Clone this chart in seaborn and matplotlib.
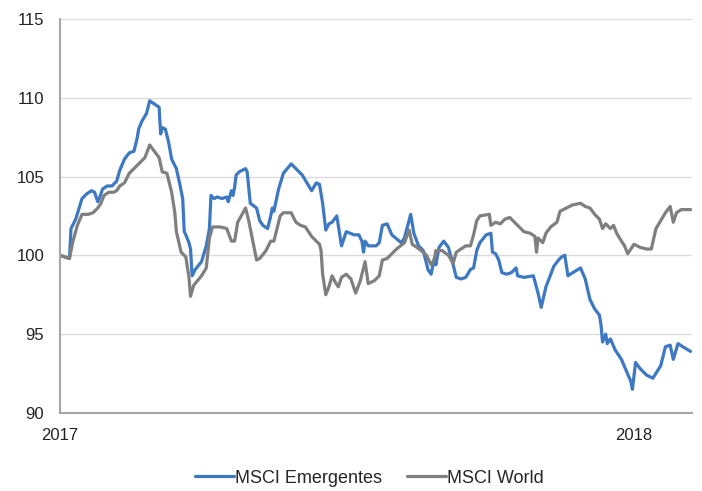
import pandas as pd
import matplotlib
matplotlib.use("Agg")
import matplotlib.pyplot as plt
import matplotlib.dates as mdates
import seaborn as sns

# MSCI Emerging Markets index, rebased to 100 at the start of 2017
em_dates = [
    "2017-01-01", "2017-01-07", "2017-01-08", "2017-01-11", "2017-01-15", "2017-01-18",
    "2017-01-21", "2017-01-23", "2017-01-25", "2017-01-26", "2017-01-28", "2017-01-31",
    "2017-02-03", "2017-02-06", "2017-02-08", "2017-02-11", "2017-02-14", "2017-02-17",
    "2017-02-19", "2017-02-20", "2017-02-22", "2017-02-25", "2017-02-27", "2017-03-02",
    "2017-03-05", "2017-03-06", "2017-03-07", "2017-03-09", "2017-03-11", "2017-03-13",
    "2017-03-16", "2017-03-18", "2017-03-20", "2017-03-21", "2017-03-22", "2017-03-24",
    "2017-03-25", "2017-03-26", "2017-03-28", "2017-04-01", "2017-04-04", "2017-04-06",
    "2017-04-07", "2017-04-09", "2017-04-11", "2017-04-14", "2017-04-17", "2017-04-18",
    "2017-04-20", "2017-04-21", "2017-04-22", "2017-04-23", "2017-04-25", "2017-04-29",
    "2017-04-30", "2017-05-02", "2017-05-06", "2017-05-08", "2017-05-10", "2017-05-13",
    "2017-05-15", "2017-05-16", "2017-05-17", "2017-05-20", "2017-05-23", "2017-05-28",
    "2017-06-01", "2017-06-04", "2017-06-10", "2017-06-13", "2017-06-15", "2017-06-17",
    "2017-06-19", "2017-06-21", "2017-06-23", "2017-06-26", "2017-06-29", "2017-07-02",
    "2017-07-07", "2017-07-10", "2017-07-12", "2017-07-13", "2017-07-14", "2017-07-16",
    "2017-07-21", "2017-07-23", "2017-07-25", "2017-07-28", "2017-07-31", "2017-08-06",
    "2017-08-08", "2017-08-12", "2017-08-14", "2017-08-17", "2017-08-20", "2017-08-23",
    "2017-08-25", "2017-08-27", "2017-08-28", "2017-08-30", "2017-09-02", "2017-09-05",
    "2017-09-08", "2017-09-10", "2017-09-13", "2017-09-16", "2017-09-19", "2017-09-21",
    "2017-09-23", "2017-09-25", "2017-09-29", "2017-10-02", "2017-10-03", "2017-10-05",
    "2017-10-07", "2017-10-09", "2017-10-12", "2017-10-15", "2017-10-18", "2017-10-19",
    "2017-10-23", "2017-10-29", "2017-11-01", "2017-11-03", "2017-11-06", "2017-11-11",
    "2017-11-14", "2017-11-16", "2017-11-18", "2017-11-20", "2017-11-23", "2017-11-28",
    "2017-12-01", "2017-12-04", "2017-12-07", "2017-12-10", "2017-12-11", "2017-12-12",
    "2017-12-14", "2017-12-15", "2017-12-17", "2017-12-20", "2017-12-24", "2017-12-27",
    "2017-12-30", "2017-12-31", "2018-01-02", "2018-01-05", "2018-01-09", "2018-01-13",
    "2018-01-18", "2018-01-21", "2018-01-24", "2018-01-26", "2018-01-29", "2018-02-01",
    "2018-02-06",
]
em_values = [
    100.0, 99.8, 101.7, 102.3, 103.6, 103.9,
    104.1, 104.0, 103.4, 103.6, 104.2, 104.4,
    104.4, 104.7, 105.4, 106.1, 106.5, 106.6,
    107.4, 108.0, 108.5, 109.0, 109.8, 109.6,
    109.4, 107.7, 108.1, 108.0, 107.2, 106.1,
    105.5, 104.6, 103.6, 101.5, 101.3, 100.8,
    100.4, 98.7, 99.1, 99.6, 100.6, 101.7,
    103.8, 103.6, 103.7, 103.6, 103.7, 103.4,
    104.1, 103.8, 104.3, 105.1, 105.3, 105.5,
    105.3, 103.3, 103.0, 102.2, 101.9, 101.7,
    102.5, 103.0, 102.8, 104.2, 105.2, 105.8,
    105.4, 105.1, 104.1, 104.6, 104.5, 103.3,
    101.6, 102.0, 102.1, 102.5, 100.6, 101.5,
    101.3, 101.3, 100.9, 100.2, 100.9, 100.6,
    100.6, 100.8, 101.9, 102.0, 101.3, 100.8,
    101.1, 102.6, 101.4, 100.6, 100.3, 99.1,
    98.8, 99.8, 99.4, 100.5, 100.9, 100.5,
    99.4, 98.6, 98.5, 98.6, 99.1, 99.2,
    100.3, 100.8, 101.3, 101.4, 100.2, 100.1,
    99.7, 98.9, 98.8, 98.9, 99.2, 98.7,
    98.6, 98.7, 97.6, 96.7, 98.0, 99.3,
    99.7, 99.9, 100.0, 98.7, 98.9, 99.2,
    98.5, 97.2, 96.6, 96.2, 95.6, 94.5,
    95.0, 94.4, 94.7, 94.0, 93.4, 92.7,
    92.0, 91.5, 93.2, 92.8, 92.4, 92.2,
    93.0, 94.2, 94.3, 93.4, 94.4, 94.2,
    93.9,
]

# MSCI World index, rebased to 100 at the start of 2017
world_dates = [
    "2017-01-01", "2017-01-07", "2017-01-09", "2017-01-12", "2017-01-15", "2017-01-19",
    "2017-01-22", "2017-01-25", "2017-01-27", "2017-01-29", "2017-02-01", "2017-02-04",
    "2017-02-06", "2017-02-08", "2017-02-11", "2017-02-14", "2017-02-17", "2017-02-22",
    "2017-02-24", "2017-02-27", "2017-03-02", "2017-03-05", "2017-03-07", "2017-03-10",
    "2017-03-13", "2017-03-15", "2017-03-16", "2017-03-19", "2017-03-22", "2017-03-24",
    "2017-03-25", "2017-03-27", "2017-04-01", "2017-04-04", "2017-04-06", "2017-04-08",
    "2017-04-11", "2017-04-13", "2017-04-17", "2017-04-20", "2017-04-22", "2017-04-24",
    "2017-04-29", "2017-05-01", "2017-05-03", "2017-05-06", "2017-05-08", "2017-05-12",
    "2017-05-15", "2017-05-17", "2017-05-19", "2017-05-21", "2017-05-23", "2017-05-28",
    "2017-05-31", "2017-06-03", "2017-06-06", "2017-06-10", "2017-06-15", "2017-06-16",
    "2017-06-17", "2017-06-19", "2017-06-21", "2017-06-23", "2017-06-25", "2017-06-27",
    "2017-06-29", "2017-07-02", "2017-07-05", "2017-07-08", "2017-07-11", "2017-07-14",
    "2017-07-16", "2017-07-20", "2017-07-23", "2017-07-25", "2017-07-28", "2017-07-31",
    "2017-08-03", "2017-08-08", "2017-08-11", "2017-08-13", "2017-08-16", "2017-08-20",
    "2017-08-22", "2017-08-25", "2017-08-27", "2017-08-28", "2017-09-01", "2017-09-05",
    "2017-09-08", "2017-09-10", "2017-09-13", "2017-09-16", "2017-09-19", "2017-09-21",
    "2017-09-23", "2017-09-25", "2017-10-01", "2017-10-02", "2017-10-05", "2017-10-08",
    "2017-10-11", "2017-10-14", "2017-10-18", "2017-10-23", "2017-10-27", "2017-10-30",
    "2017-10-31", "2017-11-01", "2017-11-03", "2017-11-04", "2017-11-06", "2017-11-09",
    "2017-11-13", "2017-11-15", "2017-11-19", "2017-11-23", "2017-11-28", "2017-12-01",
    "2017-12-04", "2017-12-07", "2017-12-10", "2017-12-12", "2017-12-14", "2017-12-17",
    "2017-12-19", "2017-12-21", "2017-12-24", "2017-12-26", "2017-12-28", "2018-01-01",
    "2018-01-05", "2018-01-09", "2018-01-12", "2018-01-15", "2018-01-18", "2018-01-21",
    "2018-01-24", "2018-01-26", "2018-01-28", "2018-01-31", "2018-02-06",
]
world_values = [
    100.0, 99.8, 100.8, 101.9, 102.6, 102.6,
    102.7, 103.0, 103.3, 103.8, 104.0, 104.0,
    104.1, 104.4, 104.6, 105.2, 105.5, 106.0,
    106.2, 107.0, 106.6, 106.2, 105.3, 105.2,
    104.0, 102.7, 101.5, 100.2, 99.9, 98.6,
    97.4, 98.1, 98.7, 99.2, 101.1, 101.8,
    101.8, 101.8, 101.7, 100.9, 100.9, 102.1,
    103.0, 102.2, 101.2, 99.7, 99.8, 100.3,
    100.9, 100.9, 101.7, 102.5, 102.7, 102.7,
    102.1, 101.9, 101.8, 101.2, 100.7, 100.3,
    98.8, 97.5, 98.0, 98.7, 98.3, 98.0,
    98.6, 98.8, 98.5, 97.6, 98.4, 99.6,
    98.2, 98.4, 98.7, 99.7, 99.8, 100.1,
    100.4, 100.8, 101.6, 100.7, 100.5, 100.2,
    100.0, 99.4, 99.7, 100.3, 100.3, 100.0,
    99.5, 100.2, 100.4, 100.6, 100.6, 101.3,
    102.2, 102.5, 102.6, 101.9, 102.1, 102.0,
    102.3, 102.4, 102.0, 101.5, 101.4, 101.2,
    100.2, 101.1, 100.9, 100.8, 101.4, 101.8,
    102.1, 102.8, 103.0, 103.2, 103.3, 103.1,
    103.0, 102.6, 102.3, 101.7, 102.0, 101.7,
    101.9, 101.4, 100.9, 100.6, 100.1, 100.7,
    100.5, 100.4, 100.4, 101.7, 102.2, 102.7,
    103.1, 102.1, 102.7, 102.9, 102.9,
]

series_names = ["MSCI Emergentes", "MSCI World"]
series_colors = ["#3d78c2", "#7f7f7f"]

df = pd.concat([
    pd.DataFrame({"fecha": pd.to_datetime(em_dates), "valor": em_values,
                  "serie": series_names[0]}),
    pd.DataFrame({"fecha": pd.to_datetime(world_dates), "valor": world_values,
                  "serie": series_names[1]}),
], ignore_index=True)

sns.set_theme(style="white")
plt.rcParams["font.family"] = ["Liberation Sans", "DejaVu Sans"]

fig = plt.figure(figsize=(7.02, 4.91), dpi=100)
ax = fig.add_axes([0.0855, 0.159, 0.9005, 0.8025])

sns.lineplot(data=df, x="fecha", y="valor", hue="serie", hue_order=series_names,
             palette=series_colors, linewidth=2.3, sort=True, estimator=None,
             legend=False, ax=ax)

ax.set_ylim(90, 115)
ax.set_yticks([90, 95, 100, 105, 110, 115])
ax.set_xlim(pd.Timestamp("2017-01-01"), pd.Timestamp("2018-02-07"))
ax.set_xticks([pd.Timestamp("2017-01-01"), pd.Timestamp("2018-01-01")])
ax.xaxis.set_major_formatter(mdates.DateFormatter("%Y"))

ax.grid(axis="y", color="#dcdcdc", linewidth=1.0)
ax.grid(axis="x", visible=False)
ax.set_axisbelow(True)

for side in ["top", "right"]:
    ax.spines[side].set_visible(False)
for side in ["left", "bottom"]:
    ax.spines[side].set_color("#a6a6a6")
    ax.spines[side].set_linewidth(1.5)

ax.tick_params(axis="both", length=0, labelsize=12, colors="#222222")
ax.tick_params(axis="y", pad=11.5)
ax.tick_params(axis="x", pad=10.5)
ax.set_xlabel("")
ax.set_ylabel("")

handles = [plt.Line2D([0], [0], color=c, linewidth=2.3) for c in series_colors]
fig.legend(handles, series_names, loc="center", bbox_to_anchor=(0.526, 0.026),
           ncol=2, frameon=False, fontsize=13, handlelength=2.15,
           handletextpad=0.05, columnspacing=1.4, borderpad=0.0)

fig.savefig("out.png", dpi=100)
